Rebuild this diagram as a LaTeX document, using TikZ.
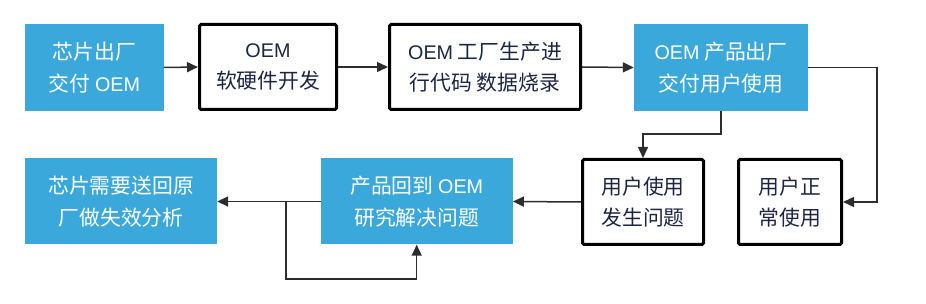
\documentclass[tikz,border=0pt]{standalone}
\usepackage{fontspec}
\setmainfont{Noto Sans CJK SC}
\newfontfamily\lat[Scale=0.95]{Liberation Sans}
\usetikzlibrary{arrows.meta}
\definecolor{boxblue}{RGB}{59,168,220}
\definecolor{txtdark}{RGB}{28,38,68}
\definecolor{linegray}{RGB}{45,45,45}
\begin{document}
\begin{tikzpicture}[x=1pt,y=-1pt,
  base/.style={inner sep=0pt, align=center, font=\fontsize{20.8}{31.5}\selectfont},
  bluebox/.style={base, fill=boxblue, text=white},
  whitebox/.style={base, draw=black, line width=3pt, rounded corners=1.5pt, fill=white, text=txtdark},
  conn/.style={draw=linegray, line width=1.5pt, -{Triangle[length=11pt,width=10pt]}}]
\useasboundingbox (0,0) rectangle (926,304);
\node[bluebox, minimum width=139pt, minimum height=87pt] (a) at (94.5,67.5) {芯片出厂\\交付 {\lat OEM}};
\node[whitebox, minimum width=137pt, minimum height=85pt] (b) at (268,67) {{\lat OEM}\\软硬件开发};
\node[whitebox, minimum width=191pt, minimum height=85pt] (c) at (485,67) {{\lat OEM} 工厂生产进\\行代码 数据烧录};
\node[bluebox, minimum width=174pt, minimum height=87pt] (d) at (721,67.5) {{\lat OEM} 产品出厂\\交付用户使用};
\node[whitebox, minimum width=121pt, minimum height=85pt] (e) at (643,202) {用户使用\\发生问题};
\node[whitebox, minimum width=103pt, minimum height=85pt] (f) at (790,202) {用户正\\常使用};
\node[bluebox, minimum width=192pt, minimum height=86pt] (g) at (416.7,201.5) {产品回到 {\lat OEM}\\研究解决问题};
\node[bluebox, minimum width=192pt, minimum height=86pt] (h) at (121,201.5) {芯片需要送回原\\厂做失效分析};
\coordinate (r) at (877,0);
\coordinate (lb) at (286,279);
\draw[conn] (a.east) -- (b.west);
\draw[conn] (b.east) -- (c.west);
\draw[conn] (c.east) -- (d.west);
\draw[conn] (d.east) -- (d.east -| r) |- (f.east);
\draw[conn] (d.south) -- ++(0,23) -| (e.north);
\draw[conn] (e.west) -- (g.east);
\draw[conn] (g.west) -- (h.east);
\draw[conn] (g.west -| lb) -- (lb) -| (g.south);
\end{tikzpicture}
\end{document}
